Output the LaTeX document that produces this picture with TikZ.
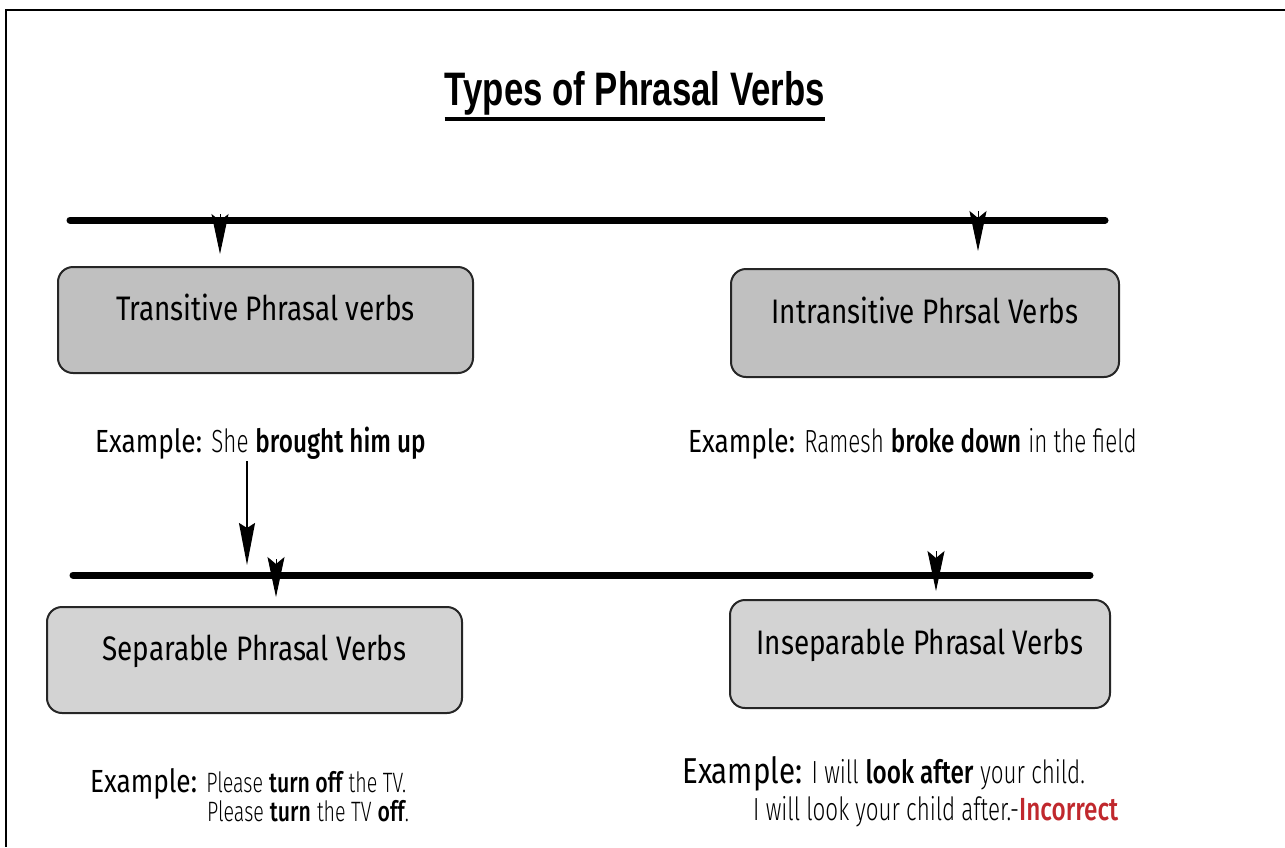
\documentclass[tikz,border=0pt]{standalone}
\usepackage{fontspec}
\usetikzlibrary{arrows.meta, positioning}
\setmainfont{Fira Sans}[FakeStretch=0.82]
\IfFontExistsTF{Fira Sans Light}
  {\newfontfamily\lightfont{Fira Sans Light}[FakeStretch=0.70]}
  {\newfontfamily\lightfont{Fira Sans}[FakeStretch=0.70]}
\IfFontExistsTF{Fira Sans Medium}
  {\newfontfamily\medfont{Fira Sans Medium}[FakeStretch=0.76]}
  {\newfontfamily\medfont{Fira Sans}[FakeStretch=0.76,FakeBold=1]}
\newfontfamily\titlefont{Liberation Sans Bold}[FakeStretch=0.74]
\definecolor{boxgrey}{RGB}{192,192,192}
\definecolor{boxgreylight}{RGB}{211,211,211}
\definecolor{wrongred}{RGB}{192,40,45}
\newcommand{\lw}[1]{{\lightfont #1}}
\newcommand{\mw}[1]{{\medfont #1}}

\begin{document}
\begin{tikzpicture}[x=1pt, y=-1pt,
    typebox/.style={draw=black!85, line width=2pt, rounded corners=15pt,
      minimum width=#1, minimum height=106pt, inner sep=0pt,
      text height=24pt, text depth=24pt, font=\fontsize{34}{40}\selectfont},
    example/.style={anchor=base west, inner sep=2pt, font=\fontsize{32}{38}\selectfont},
    bar/.style={line width=7pt, line cap=round},
    droptip/.style={-{Stealth[length=40pt, width=17pt, inset=7pt]}, line width=1pt},
    pointer/.style={-{Stealth[length=42pt, width=16pt, inset=5pt]}, line width=1.8pt}]
  \useasboundingbox (0,0) rectangle (1285,847);
  % frame (cut off at right and bottom)
  \draw[line width=2.5pt] (1285,10) -- (6,10) -- (6,847);
  % title
  \node[font={\titlefont\fontsize{47}{54}\selectfont}, anchor=base,
    inner xsep=0pt, inner ysep=4pt] (title) at (635,105) {Types of Phrasal Verbs};
  \draw[line width=4pt] (title.south west) -- (title.south east);
  % first level
  \coordinate (bar1w) at (70,220);
  \coordinate (bar1e) at (1105,220);
  \draw[bar] (bar1w) -- (bar1e);
  \node[typebox=415pt, fill=boxgrey] (trans) at (265.5,320) {Transitive Phrasal verbs};
  \node[typebox=388pt, fill=boxgrey, minimum height=108pt] (intrans) at (925,323)
    {Intransitive Phrsal Verbs};
  \coordinate (t1) at (220,214);
  \coordinate (t2) at (978,211);
  \draw[droptip, shorten >=12pt] (t1) -- (t1 |- trans.north);
  \draw[droptip, shorten >=17pt] (t2) -- (t2 |- intrans.north);
  \node[example] (extrans) at (93,452) {Example: \lw{She} \mw{brought him up}};
  \node[example] (exintrans) at (686,452)
    {Example: \lw{Ramesh} \mw{broke down} \lw{in the field}};
  % second level
  \coordinate (bar2w) at (73,575);
  \coordinate (bar2e) at (1090,575);
  \draw[bar] (bar2w) -- (bar2e);
  \coordinate (hit) at (247,565);
  \draw[pointer] (extrans.south -| hit) -- (hit);
  \node[typebox=415pt, fill=boxgreylight] (sep) at (254.5,660) {Separable Phrasal Verbs};
  \node[typebox=380pt, fill=boxgreylight, minimum height=108pt] (insep) at (920,654)
    {Inseparable Phrasal Verbs};
  \coordinate (t3) at (276,559);
  \coordinate (t4) at (936,551);
  \draw[droptip, shorten >=9pt] (t3) -- (t3 |- sep.north);
  \draw[droptip, shorten >=8pt] (t4) -- (t4 |- insep.north);
  \node[example] (exsep) at (88,792)
    {Example: {\fontsize{28}{34}\selectfont\lw{Please} \mw{turn off} \lw{the TV.}}};
  \node[example, font=\fontsize{28}{34}\selectfont] (exsepb) at (205,821)
    {\lw{Please} \mw{turn} \lw{the TV} \mw{off}\lw{.}};
  \node[example] (exinsep) at (680,783)
    {{\fontsize{36}{42}\selectfont Example:} \lw{I will} \mw{look after} \lw{your child.}};
  \node[example] (exinsepb) at (751,820)
    {\lw{I will look your child after.-}\mw{\color{wrongred}Incorrect}};
\end{tikzpicture}
\end{document}
